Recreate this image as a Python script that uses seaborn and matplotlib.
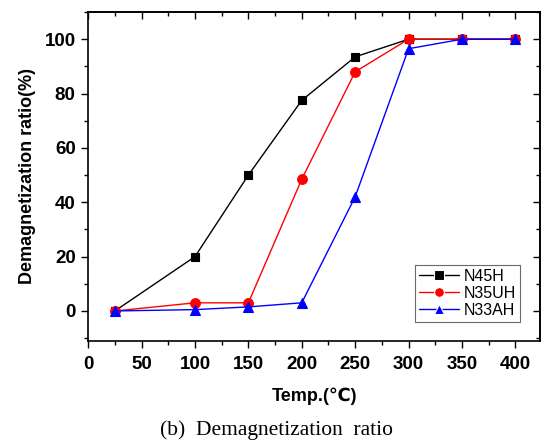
import matplotlib
matplotlib.use("Agg")
import matplotlib.pyplot as plt
import seaborn as sns
import pandas as pd
from matplotlib.ticker import MultipleLocator

temps = [25, 100, 150, 200, 250, 300, 350, 400]
n45h = [0, 20, 50, 77.5, 93.5, 100, 100, 100]
n35uh = [0, 3, 3, 48.5, 88, 100, 100, 100]
n33ah = [0, 0.5, 1.5, 3, 42, 96.5, 100, 100]
series_names = ["N45H", "N35UH", "N33AH"]

sns.set_style("ticks")
plt.rcParams['font.family'] = ['Liberation Sans', 'DejaVu Sans']
plt.rcParams['text.color'] = 'black'
plt.rcParams['axes.labelcolor'] = 'black'
plt.rcParams['xtick.color'] = 'black'
plt.rcParams['ytick.color'] = 'black'
plt.rcParams['axes.edgecolor'] = 'black'

rows = []
for name, vals in zip(series_names, [n45h, n35uh, n33ah]):
    for t, v in zip(temps, vals):
        rows.append({"Temp": t, "Ratio": v, "Series": name})
df = pd.DataFrame(rows)

fig = plt.figure(figsize=(5.41, 4.45), dpi=100)
ax = fig.add_axes([0.163, 0.234, 0.835, 0.739])

palette = {"N45H": "black", "N35UH": "red", "N33AH": "blue"}
markers = {"N45H": "s", "N35UH": "o", "N33AH": "^"}
msizes = {"N45H": 6, "N35UH": 7, "N33AH": 7.5}
sns.lineplot(data=df, x="Temp", y="Ratio", hue="Series", style="Series",
             palette=palette, markers=markers, dashes=False, ax=ax,
             linewidth=1.0, markeredgewidth=0.8, legend=True)

for line, name in zip(ax.lines, series_names):
    line.set_markeredgecolor(palette[name])
    line.set_markersize(msizes[name])

ax.set_xlim(0, 423)
ax.set_ylim(-11, 110)
ax.xaxis.set_major_locator(MultipleLocator(50))
ax.xaxis.set_minor_locator(MultipleLocator(25))
ax.yaxis.set_major_locator(MultipleLocator(20))
ax.yaxis.set_minor_locator(MultipleLocator(10))
ax.tick_params(which='both', direction='out', width=1.0, top=False, right=False)
ax.tick_params(which='major', length=5)
ax.tick_params(which='minor', length=3)
ax.tick_params(axis='x', pad=6)
ax.tick_params(axis='y', pad=4)
ax.tick_params(labelsize=13.5)
for lbl in ax.get_xticklabels() + ax.get_yticklabels():
    lbl.set_fontweight('bold')
for s in ax.spines.values():
    s.set_linewidth(1.2)
    s.set_visible(True)

# mirrored inward ticks on top and right
secx = ax.secondary_xaxis('top')
secx.xaxis.set_major_locator(MultipleLocator(50))
secx.xaxis.set_minor_locator(MultipleLocator(25))
secx.tick_params(which='both', direction='in', labeltop=False, width=1.0)
secx.tick_params(which='major', length=5)
secx.tick_params(which='minor', length=3)
secx.spines['top'].set_linewidth(1.2)
secy = ax.secondary_yaxis('right')
secy.yaxis.set_major_locator(MultipleLocator(20))
secy.yaxis.set_minor_locator(MultipleLocator(10))
secy.tick_params(which='both', direction='in', labelright=False, width=1.0)
secy.tick_params(which='major', length=5)
secy.tick_params(which='minor', length=3)
secy.spines['right'].set_linewidth(1.2)

ax.set_xlabel("Temp.(℃)", fontsize=13, fontweight='bold', labelpad=10)
ax.set_ylabel("Demagnetization ratio(%)", fontsize=13, fontweight='bold', labelpad=6)

handles, labels = ax.get_legend_handles_labels()
for h in handles:
    h.set_markersize(7)
leg = ax.legend(handles, labels, loc='lower right', bbox_to_anchor=(0.956, 0.058),
                borderaxespad=0, fontsize=11.5, frameon=True, fancybox=False,
                edgecolor='#444444', handlelength=2.5, borderpad=0.25,
                labelspacing=0.12, handletextpad=0.3)
leg.get_frame().set_linewidth(0.8)

fig.text(0.512, 0.034, "(b)  Demagnetization  ratio", ha='center', va='center',
         fontsize=15.5, family='Liberation Serif')

fig.savefig("out.png", dpi=100)
